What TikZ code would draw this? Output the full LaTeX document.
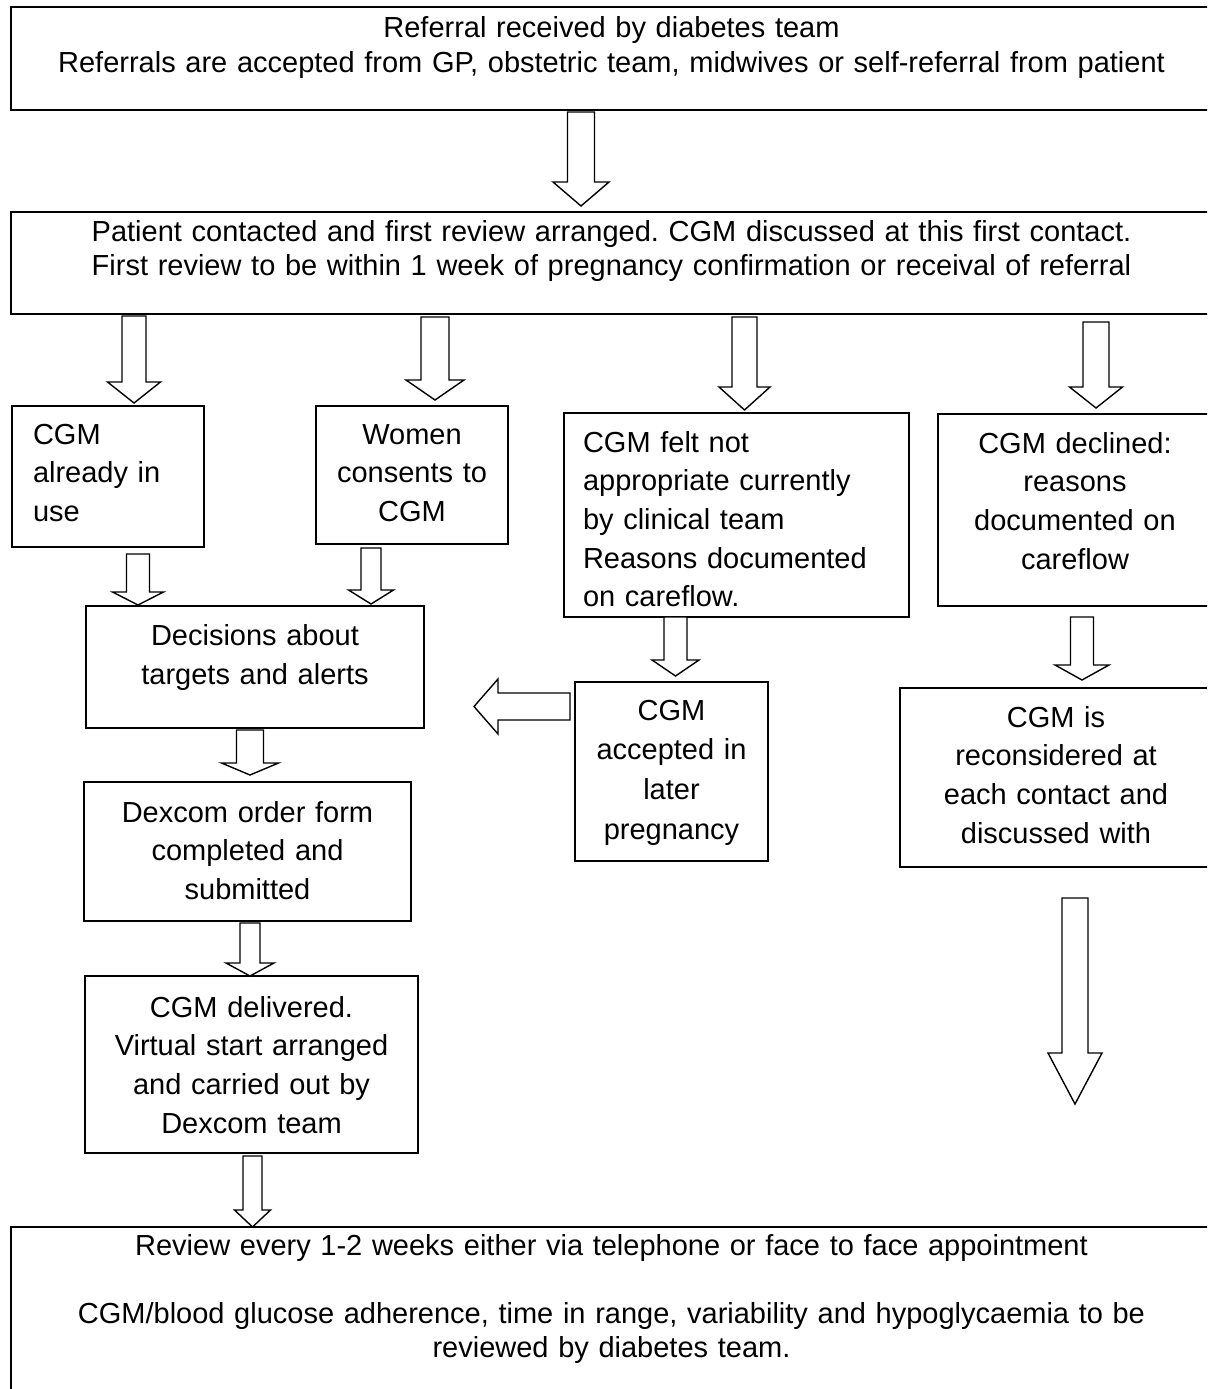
\documentclass[tikz,border=0pt]{standalone}
\usepackage{fontspec}
\setmainfont{Liberation Sans}
\usetikzlibrary{calc,positioning}
\frenchspacing
\newcommand{\smallfont}{\fontsize{29pt}{38.7pt}\selectfont}
\newcommand{\widefont}{\fontsize{29pt}{34pt}\selectfont}
\tikzset{
	box/.style={draw, line width=1.8pt, anchor=north west, inner sep=0pt, outer sep=0pt, align=center, font=\smallfont},
	widebox/.style={box, line width=2.6pt, text width=1201pt, font=\widefont},
	blk/.style n args={3}{draw, line width=1.4pt, fill=white,
			to path={let \p1=($(\tikztotarget)!#3!(\tikztostart)$) in
					($(\tikztostart)!#1!90:(\tikztotarget)$) -- ($(\p1)!#1!90:(\tikztotarget)$) -- ($(\p1)!#2!90:(\tikztotarget)$) -- (\tikztotarget)
					-- ($(\p1)!#2!-90:(\tikztotarget)$) -- ($(\p1)!#1!-90:(\tikztotarget)$) -- ($(\tikztostart)!#1!-90:(\tikztotarget)$) -- cycle}}
}

\begin{document}
\begin{tikzpicture}[x=1pt, y=-1pt]
		\useasboundingbox (0,0) rectangle (1208,1389);
		\clip (0,0) rectangle (1207,1389);
		% boxes
		\node[widebox, text height=31pt, text depth=72pt] (ref) at (11,7) {Referral received by diabetes team\\Referrals are accepted from GP, obstetric team, midwives or self-referral from patient};
		\node[widebox, text height=29pt, text depth=73pt] (contact) at (11,212) {Patient contacted and first review arranged. CGM discussed at this first contact.\\First review to be within 1 week of pregnancy confirmation or receival of referral};
		\node[box, align=left, inner xsep=21pt, text width=150pt, text height=38pt, text depth=103pt] (inuse) at (12,406) {CGM\\already in\\use};
		\node[box, text width=192pt, text height=38pt, text depth=100pt] (consent) at (316,406) {Women\\consents to\\CGM};
		\node[box, align=left, inner xsep=19pt, text width=307pt, text height=39pt, text depth=165pt] (notappr) at (564,413) {CGM felt not\\appropriate currently\\by clinical team\\Reasons documented\\on careflow.};
		\node[box, text width=274pt, text height=39pt, text depth=153pt] (declined) at (938,414) {CGM declined:\\reasons\\documented on\\careflow};
		\node[box, text width=338pt, text height=39pt, text depth=83pt] (decide) at (86,606) {Decisions about\\[1pt]targets and alerts};
		\node[box, text width=193pt, text height=38pt, text depth=141pt, font=\fontsize{29pt}{39.7pt}\selectfont] (accepted) at (575,682) {CGM\\accepted in\\later\\pregnancy};
		\node[box, text width=312pt, text height=39pt, text depth=140pt] (reconsider) at (900,688) {CGM is\\reconsidered at\\each contact and\\discussed with};
		\node[box, text width=327pt, text height=40pt, text depth=99pt] (dexcom) at (84,782) {Dexcom order form\\completed and\\submitted};
		\node[box, text width=333pt, text height=41pt, text depth=136pt] (delivered) at (85,976) {CGM delivered.\\Virtual start arranged\\and carried out by\\Dexcom team};
		\node[widebox, text height=28pt, text depth=200pt] (review) at (11,1227) {Review every 1-2 weeks either via telephone or face to face appointment\\[34pt]CGM/blood glucose adherence, time in range, variability and hypoglycaemia to be\\reviewed by diabetes team.};
		\coordinate (later) at ($(reconsider.south)+(19,237)$);
		% block arrows
		\draw[blk={13.5pt}{28pt}{24pt}] ($(ref.south)+(-30.5,2)$) to ($(contact.north)+(-30.5,-6)$);
		\draw[blk={12pt}{26.5pt}{21pt}] ($(inuse.north |- contact.south)+(26,2)$) to ($(inuse.north)+(26,-3)$);
		\draw[blk={14pt}{29pt}{20pt}] ($(consent.north |- contact.south)+(23,3)$) to ($(consent.north)+(23,-6)$);
		\draw[blk={12.5pt}{25.5pt}{23pt}] ($(notappr.north |- contact.south)+(8,3)$) to ($(notappr.north)+(8,-3)$);
		\draw[blk={13pt}{26.5pt}{21pt}] ($(declined.north |- contact.south)+(21,8)$) to ($(declined.north)+(21,-6)$);
		\draw[blk={11.5pt}{25.5pt}{13pt}] ($(inuse.south)+(30,7)$) to ($(inuse.south |- decide.north)+(30,-1)$);
		\draw[blk={10pt}{22.5pt}{14pt}] ($(consent.south)+(-41,4)$) to ($(consent.south |- decide.north)+(-41,-2)$);
		\draw[blk={13.5pt}{28.5pt}{12pt}] ($(decide.south)+(-5,2)$) to ($(decide.south |- dexcom.north)+(-5,-7)$);
		\draw[blk={11.5pt}{23.5pt}{16pt}] ($(accepted.north |- notappr.south)+(4,0)$) to ($(accepted.north)+(4,-6)$);
		\draw[blk={13.5pt}{27.5pt}{24pt}] ($(accepted.west)+(-5,-65)$) to ($(decide.east |- accepted.west)+(50,-65)$);
		\draw[blk={11.5pt}{27pt}{15pt}] ($(declined.south)+(7,11)$) to ($(declined.south |- reconsider.north)+(7,-8)$);
		\draw[blk={10pt}{24pt}{13pt}] ($(dexcom.south)+(2.5,2)$) to ($(dexcom.south |- delivered.north)+(2.5,0)$);
		\draw[blk={13pt}{27pt}{51pt}] ($(reconsider.south)+(19,31)$) to (later);
		\draw[blk={9.5pt}{18pt}{17pt}] ($(delivered.south)+(1,3)$) to ($(delivered.south |- review.north)+(1,0)$);
	\end{tikzpicture}
\end{document}
